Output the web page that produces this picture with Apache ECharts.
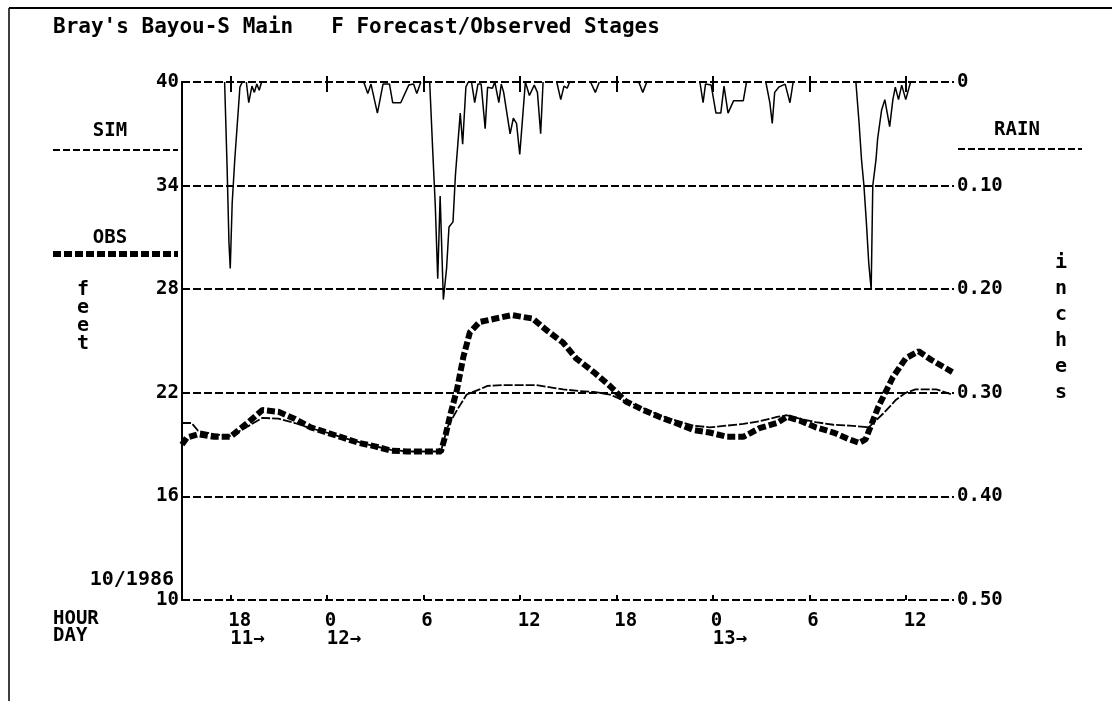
<!DOCTYPE html>
<html>
<head>
    <meta charset="utf-8">
    <title>Bray's Bayou-S Main Forecast/Observed Stages</title>
    <script src="https://cdn.jsdelivr.net/npm/echarts@6/dist/echarts.min.js"></script>
    <style>
        html, body { margin: 0; padding: 0; background: #fff; }
    </style>
</head>
<body>
    <div id="main" style="width: 1112px;height:701px;"></div>
    <script type="text/javascript">
        // hours since 15:00 on day 11
        var tickHours = [3, 9, 15, 21, 27, 33, 39, 45];
        var hourLabels = ['18', '0', '6', '12', '18', '0', '6', '12'];
        var dayLabels = ['11→', '12→', '', '', '', '13→', '', ''];

        // observed stage, feet
        var obsHour = [0, 0.3, 1, 2, 3, 4, 5, 6, 7, 8,
                       9, 10, 11, 12, 13, 14, 15, 16.1, 16.4, 16.7,
                       17.1, 17.5, 17.9, 18.5, 19.5, 20.5, 21.8, 22.7, 23.7, 24.5,
                       25.6, 26.6, 27.6, 28.7, 29.7, 30.7, 31.8, 32.8, 33.9, 34.9,
                       35.9, 37, 37.6, 38.4, 39.4, 40.5, 41.5, 42.1, 42.5, 43.3,
                       44.2, 45, 45.8, 46.6, 47.9];
        var obsFeet = [19.0, 19.4, 19.6, 19.45, 19.45, 20.2, 21.0, 20.9, 20.5, 20.0,
                       19.7, 19.4, 19.1, 18.9, 18.65, 18.6, 18.6, 18.6, 19.6, 20.8,
                       22.2, 24.1, 25.5, 26.1, 26.3, 26.5, 26.3, 25.6, 24.9, 24.0,
                       23.2, 22.4, 21.5, 21.0, 20.6, 20.25, 19.85, 19.7, 19.45, 19.45,
                       19.95, 20.25, 20.6, 20.4, 20.0, 19.7, 19.3, 19.1, 19.3, 21.2,
                       22.9, 24.0, 24.4, 23.9, 23.2];

        // simulated stage, feet
        var simHour = [0, 0.6, 1, 2, 3, 4, 5, 6, 7, 8,
                       9, 10, 11, 12, 13, 14, 15, 16.1, 16.5, 17.1,
                       17.7, 18.5, 19, 20, 22, 23.7, 24.7, 25.6, 26.6, 27.6,
                       28.7, 29.7, 30.7, 31.8, 32.8, 33.9, 34.9, 35.9, 37, 37.6,
                       38.4, 39.4, 40.5, 41.5, 42.7, 43.6, 44.4, 45, 45.6, 46.9,
                       47.9];
        var simFeet = [20.25, 20.25, 19.8, 19.6, 19.5, 20.0, 20.55, 20.5, 20.25, 19.95,
                       19.7, 19.4, 19.15, 18.9, 18.7, 18.6, 18.6, 18.6, 20.0, 21.0,
                       21.9, 22.2, 22.4, 22.45, 22.45, 22.2, 22.1, 22.05, 21.9, 21.5,
                       21.1, 20.7, 20.4, 20.1, 20.0, 20.1, 20.2, 20.35, 20.6, 20.7,
                       20.5, 20.3, 20.15, 20.1, 20.0, 20.8, 21.6, 22.0, 22.2, 22.2,
                       21.9];

        // rainfall, inches (null = break between storms)
        var rainHour = [2.65, 2.8, 2.92, 3.0, 3.12, 3.28, 3.5, 3.6, 3.75,
                        3.9,
                        4.0, 4.15, 4.35, 4.5, 4.65, 4.8, 4.95,
                        8,
                        11.3, 11.55, 11.75, 12.15, 12.5, 12.9, 13.1, 13.6, 14.1, 14.4, 14.6, 14.85,
                        15.1,
                        15.4, 15.6, 15.75, 15.9, 16.05, 16.25, 16.45, 16.6, 16.85, 17.0, 17.15, 17.3, 17.45, 17.65, 17.8,
                        17.9,
                        18.0, 18.2, 18.4, 18.6, 18.85, 19.0, 19.3, 19.45, 19.7, 19.85, 20.0, 20.2, 20.4, 20.6,
                        20.8, 21.0, 21.2, 21.35, 21.6, 21.9, 22.1, 22.3, 22.45,
                        23,
                        23.3, 23.55, 23.75, 23.95, 24.1,
                        25,
                        25.4, 25.7, 25.95,
                        27,
                        28.4, 28.65, 28.9,
                        30,
                        32.2, 32.4, 32.55, 32.9, 33.2, 33.5, 33.7, 33.95, 34.3, 34.9, 35.1,
                        35.7,
                        36.3, 36.55, 36.7, 36.85, 37.1, 37.5, 37.8, 38.0,
                        40,
                        41.9, 42.1, 42.25, 42.4, 42.55, 42.7, 42.85, 42.95, 43.15, 43.25, 43.5, 43.7,
                        44.0, 44.2, 44.35, 44.55, 44.75, 45.0, 45.3];
        var rainInch = [0, 0.08, 0.155, 0.18, 0.117, 0.075, 0.027, 0.005, 0,
                        null,
                        0, 0.02, 0.004, 0.01, 0.002, 0.008, 0,
                        null,
                        0, 0.011, 0.002, 0.03, 0.002, 0.002, 0.02, 0.02, 0.003, 0.002, 0.011, 0,
                        null,
                        0, 0.07, 0.12, 0.19, 0.11, 0.21, 0.18, 0.14, 0.135, 0.09, 0.06, 0.03, 0.06, 0.005, 0,
                        null,
                        0, 0.02, 0.002, 0.002, 0.045, 0.005, 0.006, 0, 0.02, 0.002, 0.01, 0.03, 0.05, 0.035,
                        0.04, 0.07, 0.03, 0, 0.013, 0.003, 0.01, 0.05, 0,
                        null,
                        0, 0.017, 0.004, 0.006, 0,
                        null,
                        0, 0.01, 0,
                        null,
                        0, 0.01, 0,
                        null,
                        0, 0.02, 0.002, 0.003, 0.03, 0.03, 0.004, 0.03, 0.018, 0.018, 0,
                        null,
                        0, 0.02, 0.04, 0.01, 0.005, 0.002, 0.02, 0,
                        null,
                        0, 0.04, 0.075, 0.1, 0.135, 0.175, 0.2, 0.1, 0.075, 0.055, 0.027, 0.017,
                        0.043, 0.017, 0.005, 0.017, 0.003, 0.017, 0];

        function pairs(xs, ys) {
            var out = [];
            for (var i = 0; i < xs.length; i++) {
                out.push([xs[i], ys[i] === null ? '-' : ys[i]]);
            }
            return out;
        }

        // a tick-only time axis (used for the little "+" marks on top and bottom lines)
        function tickAxis(pos, inside, len) {
            return {
                type: 'value', min: 0, max: 48, position: pos, offset: 0,
                axisLine: { show: false },
                axisTick: { show: true, inside: inside, length: len, customValues: tickHours,
                            lineStyle: { color: '#000', width: 2 } },
                splitLine: { show: false },
                axisLabel: { show: false }
            };
        }

        var FONT = 'DejaVu Sans Mono';
        var dash = [8, 3];

        var myChart = echarts.init(document.getElementById('main'));

        var option = {
            animation: false,
            backgroundColor: '#fff',
            grid: { left: 182, top: 82, width: 772, height: 518 },
            xAxis: [{
                type: 'value', min: 0, max: 48, position: 'bottom', offset: 0,
                axisLine: { show: false },
                axisTick: { show: true, length: 10, customValues: tickHours,
                            lineStyle: { color: '#000', width: 2 } },
                splitLine: { show: false },
                axisLabel: {
                    customValues: tickHours, margin: 12, align: 'left',
                    formatter: function (v) {
                        var i = tickHours.indexOf(v);
                        return '{h|' + hourLabels[i] + '}\n{d|' + (dayLabels[i] || ' ') + '}';
                    },
                    rich: {
                        h: { fontFamily: FONT, fontWeight: 'bold', fontSize: 19, color: '#000', lineHeight: 18, padding: [0, 0, 0, -2] },
                        d: { fontFamily: FONT, fontWeight: 'bold', fontSize: 19, color: '#000', lineHeight: 18 }
                    }
                }
            },
                tickAxis('bottom', true, 5),
                tickAxis('top', false, 6),
                tickAxis('top', true, 10)
            ],
            yAxis: [{
                type: 'value', min: 10, max: 40, interval: 6, position: 'left',
                axisLine: { show: true, lineStyle: { color: '#000', width: 2 } },
                axisTick: { show: false },
                axisLabel: { margin: 3, color: '#000', fontFamily: FONT, fontWeight: 'bold', fontSize: 19 },
                splitLine: { show: true, lineStyle: { color: '#000', width: 2, type: dash } }
            }, {
                type: 'value', min: 0, max: 0.5, interval: 0.1, position: 'right', inverse: true,
                axisLine: { show: true, lineStyle: { color: '#000', width: 2 } },
                axisTick: { show: false },
                splitLine: { show: false },
                axisLabel: {
                    margin: 3, color: '#000', fontFamily: FONT, fontWeight: 'bold', fontSize: 19,
                    formatter: function (v) { return v === 0 ? '0' : v.toFixed(2); }
                }
            }],
            graphic: [
                { type: 'line', shape: { x1: 9, y1: 8, x2: 1112, y2: 8 }, style: { stroke: '#000', lineWidth: 2 } },
                { type: 'line', shape: { x1: 9, y1: 8, x2: 9, y2: 701 }, style: { stroke: '#000', lineWidth: 1.5 } },
                { type: 'text', x: 53, y: 17,
                  style: { text: "Bray's Bayou-S Main   F Forecast/Observed Stages", fill: '#000',
                           fontFamily: FONT, fontWeight: 'bold', fontSize: 21 } },
                { type: 'text', x: 110, y: 131,
                  style: { text: 'SIM', fill: '#000', align: 'center', verticalAlign: 'middle',
                           fontFamily: FONT, fontWeight: 'bold', fontSize: 19 } },
                { type: 'line', shape: { x1: 53, y1: 150, x2: 178, y2: 150 },
                  style: { stroke: '#000', lineWidth: 2, lineDash: [7, 3] } },
                { type: 'text', x: 110, y: 238,
                  style: { text: 'OBS', fill: '#000', align: 'center', verticalAlign: 'middle',
                           fontFamily: FONT, fontWeight: 'bold', fontSize: 19 } },
                { type: 'line', shape: { x1: 53, y1: 254, x2: 178, y2: 254 },
                  style: { stroke: '#000', lineWidth: 6, lineDash: [8, 3] } },
                { type: 'text', x: 1017, y: 130,
                  style: { text: 'RAIN', fill: '#000', align: 'center', verticalAlign: 'middle',
                           fontFamily: FONT, fontWeight: 'bold', fontSize: 19 } },
                { type: 'line', shape: { x1: 958, y1: 149, x2: 1082, y2: 149 },
                  style: { stroke: '#000', lineWidth: 2, lineDash: [7, 3] } },
                { type: 'text', x: 83, y: 281,
                  style: { text: 'f\ne\ne\nt', fill: '#000', align: 'center', lineHeight: 18,
                           fontFamily: FONT, fontWeight: 'bold', fontSize: 20 } },
                { type: 'text', x: 1061, y: 250,
                  style: { text: 'i\nn\nc\nh\ne\ns', fill: '#000', align: 'center', lineHeight: 26,
                           fontFamily: FONT, fontWeight: 'bold', fontSize: 20 } },
                { type: 'text', x: 174, y: 580,
                  style: { text: '10/1986', fill: '#000', align: 'right', verticalAlign: 'middle',
                           fontFamily: FONT, fontWeight: 'bold', fontSize: 20 } },
                { type: 'text', x: 53, y: 619,
                  style: { text: 'HOUR', fill: '#000', verticalAlign: 'middle',
                           fontFamily: FONT, fontWeight: 'bold', fontSize: 19 } },
                { type: 'text', x: 53, y: 636,
                  style: { text: 'DAY', fill: '#000', verticalAlign: 'middle',
                           fontFamily: FONT, fontWeight: 'bold', fontSize: 19 } }
            ],
            series: [{
                name: 'SIM', type: 'line', xAxisIndex: 0, yAxisIndex: 0,
                symbol: 'none', z: 3,
                lineStyle: { color: '#000', width: 1.8, type: [9, 2] },
                data: pairs(simHour, simFeet)
            }, {
                name: 'OBS', type: 'line', xAxisIndex: 0, yAxisIndex: 0,
                symbol: 'none', z: 4,
                lineStyle: { color: '#000', width: 6, type: [8, 3] },
                data: pairs(obsHour, obsFeet)
            }, {
                name: 'RAIN', type: 'line', xAxisIndex: 0, yAxisIndex: 1,
                symbol: 'none', connectNulls: false, z: 5,
                lineStyle: { color: '#000', width: 1.5 },
                data: pairs(rainHour, rainInch)
            }]
        };

        myChart.setOption(option);
    </script>
</body>
</html>
